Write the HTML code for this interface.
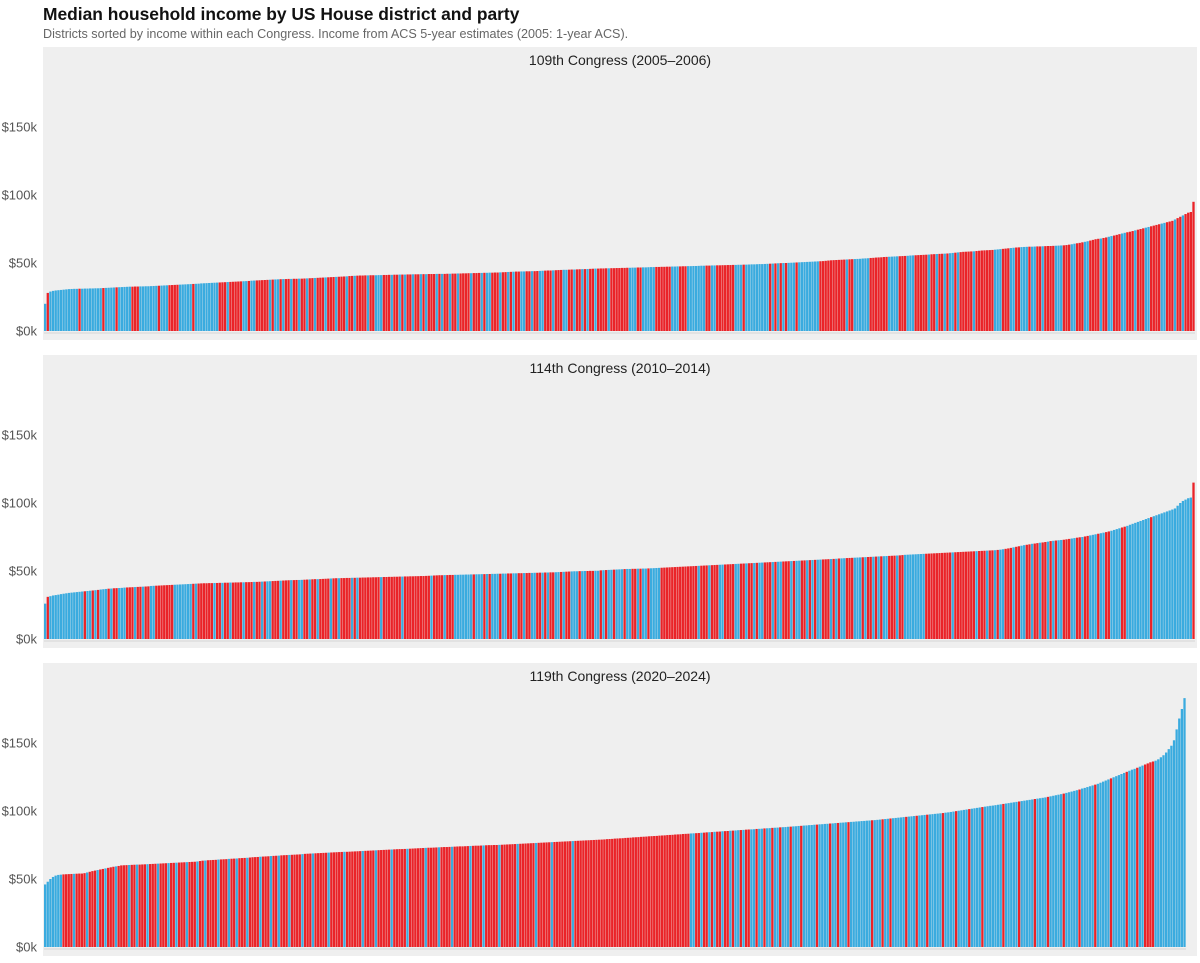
<!DOCTYPE html>
<html><head><meta charset="utf-8">
<style>
body{margin:0;background:#fff;width:1200px;height:963px;overflow:hidden;font-family:"Liberation Sans",sans-serif;}
svg{display:block}
</style></head>
<body>
<svg id="chart" width="1200" height="963">
<text x="43" y="20" font-size="17.4" font-weight="bold" fill="#111">Median household income by US House district and party</text>
<text x="43" y="38" font-size="12.6" fill="#666">Districts sorted by income within each Congress. Income from ACS 5-year estimates (2005: 1-year ACS).</text>
</svg>
<script>
const panelTitles = ["109th Congress (2005\u20132006)","114th Congress (2010\u20132014)","119th Congress (2020\u20132024)"];
const yTicks = [0,50,100,150];
const yTickLabels = ["$0k","$50k","$100k","$150k"];
const party109 = "DRDDDDDDDD"+"DDDRDDDDDD"+"DDRDDDDRDD"+"DDDRRRDDDD"+"DDDRDDDRRR"+"RDDDDDRDDD"+"DDDDDDRRRD"+"RRRRRDDRDD"+"RRRRRDRDDR"+"DRRDRRDRRD"+"RRDRRRDRRR"+"DRRRDRRDRR"+"RRDRRDDDRR"+"RDRRDRDRRD"+"RRDRDRRRDR"+"DRRDRRDRRR"+"RDRRRDRDDR"+"RRDRRDRDRR"+"DDRRDRRDDR"+"RRDRRRDDRR"+"DRRDRDRRDR"+"RRRDRRRRRR"+"RDDDRRDDDD"+"DRRRRRRDDD"+"RRRDDDDDDD"+"RRDDRRRRRR"+"RDDDRDDDDD"+"DDDDRDRDRD"+"RDDDRDDDDD"+"DDDRRRRRRR"+"RRRDRRDDDD"+"DDRRRRRRRD"+"DDDRRRDDDR"+"RRRRDRRDRR"+"DRDDRDRRRR"+"RDRRRRRRRD"+"DDRRRDDRRD"+"DDRDDRRDRR"+"RRDDDRRRDD"+"RRRDDRRRRD"+"RRDDRRRDDR"+"RRDRRRDDRR"+"RRDDRRRDRR"+"DRRRR";
const party114 = "DRDDDDDDDD"+"DDDDDRDDRD"+"RDDDRDRRDD"+"DRRRDRRDRR"+"DDRRRRRRRD"+"DDDDDDRDRR"+"RRRRDRRDRR"+"DRRRRDRRRD"+"RRDRDDRRRD"+"RRRDRRDDRR"+"DRRDRRRRDR"+"RDRRRRDRDR"+"RRRRRRRDRR"+"RRRRRDRRRR"+"RRRRRRDRRR"+"RDRRRDDDDD"+"DDRDDDRDRD"+"DDRDDRRDDR"+"RDRRDDRRDR"+"DRRDDRDRRD"+"DDRDDRRRDD"+"RDRDDRDDDR"+"DDRRDRDDRD"+"DDDRRRRRRR"+"RRRRRRRDRR"+"RDRRRDDRRR"+"RDDRRDRRDR"+"DDRRRDRDDR"+"RRDRDDRRDR"+"DRDDRRRDRD"+"RDDRRRDDDR"+"DRRDRDRDDR"+"RRDRRDDDDD"+"DDDRRRRRRR"+"RRRDRRRRRR"+"RRDRRRDRRD"+"RDDRRRDRRD"+"DRRDRRDRRD"+"RDRDDRRRDD"+"RRDRRDDDRD"+"DRRDDDDRRD"+"DDDDDDDDRD"+"DDDDDDDDDD"+"DDDDR";
const party119 = "DDDDDDDRRR"+"RDRRRRDRRR"+"DRRDRRRDRR"+"RRDRRDRRRD"+"RRRDRRRDRR"+"DRRRDRRRDR"+"RDRRRRDRRR"+"DRRDRRRDRR"+"RRDRRRDRRD"+"RRRDRRRRDR"+"RRDRRRRRDR"+"RRRRDRRRRR"+"RDRRRRDRRR"+"RRDRRRRRDR"+"RRRRRDRRRR"+"DRRRRDRRRR"+"RRDRRRRDRR"+"RRRDRRRRRR"+"DRRRRRRDRR"+"RRRDRRRRRR"+"RDRRRRRRRR"+"RRRRRRRRRR"+"RRRRRRRRRR"+"RRRRRRRRRR"+"RRRRRRDDRR"+"DRRDRDRRDR"+"RDRDDRDRRD"+"DRDDRDDRDD"+"RDDDRDDDRD"+"DDDDRDDDDR"+"DDRDDDRDDD"+"DDDDDRDDDR"+"DDRDDDDDRD"+"DDRDDDRDDD"+"DDRDDDDRDD"+"DDRDDDDRDD"+"DDDDDRDDDD"+"DRDDDDDRDD"+"DDRDDDDDRD"+"DDDDRDDDDD"+"RDDDDDRDDD"+"DDRDDDRDDR"+"RRRDDDDDDD"+"DDDDD";
const income109 = [20,28,29,29.5,29.8,30,30.2,30.4,30.6,30.8,
30.9,31,31,31.1,31.1,31.2,31.2,31.3,31.3,31.4,
31.4,31.5,31.6,31.7,31.8,31.9,32,32.1,32.2,32.3,
32.4,32.5,32.6,32.6,32.7,32.7,32.8,32.8,32.9,32.9,
33,33.1,33.2,33.3,33.4,33.5,33.6,33.7,33.8,33.9,
34,34.1,34.2,34.3,34.4,34.5,34.6,34.7,34.8,35,
35.1,35.2,35.3,35.4,35.5,35.6,35.7,35.8,35.9,36,
36.1,36.2,36.3,36.4,36.5,36.6,36.7,36.8,37,37.1,
37.2,37.3,37.4,37.5,37.6,37.7,37.8,37.9,38,38.1,
38.2,38.2,38.3,38.3,38.4,38.4,38.5,38.5,38.6,38.7,
38.8,38.9,39,39.1,39.2,39.3,39.4,39.5,39.6,39.7,
39.8,39.9,40,40.1,40.2,40.4,40.5,40.6,40.7,40.8,
40.8,40.9,40.9,41,41,41,41.1,41.1,41.2,41.2,
41.3,41.3,41.4,41.4,41.5,41.5,41.5,41.6,41.6,41.7,
41.7,41.7,41.8,41.8,41.8,41.9,41.9,41.9,42,42,
42,42,42.1,42.1,42.2,42.2,42.3,42.3,42.4,42.4,
42.5,42.5,42.6,42.6,42.7,42.7,42.8,42.8,42.9,42.9,
43,43,43.1,43.2,43.3,43.4,43.5,43.6,43.7,43.7,
43.8,43.8,43.9,43.9,44,44,44.1,44.2,44.3,44.4,
44.5,44.5,44.6,44.7,44.8,44.9,45,45,45.1,45.2,
45.2,45.3,45.4,45.5,45.5,45.6,45.7,45.8,45.9,45.9,
46,46,46.1,46.1,46.2,46.2,46.3,46.3,46.4,46.4,
46.5,46.5,46.6,46.6,46.7,46.7,46.8,46.8,46.9,47,
47,47.1,47.1,47.2,47.2,47.3,47.3,47.4,47.4,47.5,
47.5,47.6,47.6,47.7,47.7,47.8,47.8,47.9,48,48,
48.1,48.1,48.2,48.2,48.3,48.3,48.4,48.4,48.5,48.5,
48.6,48.6,48.7,48.7,48.8,48.8,48.9,49,49,49.1,
49.2,49.2,49.3,49.4,49.5,49.6,49.7,49.8,49.9,50,
50,50.1,50.2,50.3,50.4,50.5,50.6,50.7,50.8,50.9,
51,51.1,51.2,51.3,51.4,51.6,51.8,52,52.1,52.2,
52.3,52.4,52.5,52.6,52.7,52.8,52.9,53,53.1,53.3,
53.4,53.5,53.7,53.8,54,54.1,54.2,54.4,54.5,54.6,
54.7,54.8,54.9,55,55.1,55.2,55.3,55.5,55.6,55.7,
55.8,55.9,56,56.1,56.2,56.4,56.5,56.6,56.7,56.8,
56.9,57,57.2,57.4,57.6,57.8,58,58.2,58.3,58.4,
58.5,58.6,58.8,59,59.2,59.3,59.4,59.5,59.6,59.8,
60,60.2,60.4,60.6,60.8,61,61.2,61.4,61.5,61.7,
61.8,61.9,62,62,62.1,62.2,62.2,62.3,62.4,62.5,
62.5,62.6,62.7,62.8,62.9,63,63.2,63.5,63.8,64.2,
64.5,64.8,65.2,65.6,66,66.5,67,67.5,67.8,68,
68.4,68.8,69.3,69.8,70.2,70.7,71.2,71.7,72.2,72.6,
73,73.5,74,74.5,75,75.5,76,76.5,77,77.5,
78,78.5,79,79.5,80,80.5,81,82,83,84,
85,86,87,87.5,95];
const income114 = [26,31,31.5,32,32.3,32.6,33,33.3,33.6,33.9,
34.1,34.3,34.5,34.7,34.9,35.1,35.3,35.5,35.7,35.9,
36.1,36.4,36.6,36.8,37,37.1,37.3,37.4,37.5,37.6,
37.8,37.9,38,38.1,38.2,38.3,38.4,38.5,38.6,38.7,
39,39.1,39.2,39.3,39.4,39.5,39.6,39.7,39.8,39.9,
40,40.1,40.2,40.3,40.4,40.5,40.6,40.7,40.8,40.9,
41,41,41.1,41.1,41.2,41.2,41.3,41.3,41.4,41.4,
41.5,41.5,41.6,41.6,41.7,41.7,41.8,41.8,41.9,42,
42,42.1,42.2,42.3,42.4,42.5,42.6,42.7,42.8,42.9,
43,43.1,43.2,43.3,43.3,43.4,43.4,43.5,43.6,43.7,
43.8,43.9,44,44,44.1,44.2,44.3,44.4,44.5,44.6,
44.7,44.7,44.8,44.8,44.9,44.9,45,45,45.1,45.1,
45.2,45.2,45.3,45.3,45.4,45.4,45.5,45.5,45.6,45.6,
45.7,45.7,45.8,45.8,45.9,45.9,46,46,46.1,46.1,
46.2,46.2,46.3,46.3,46.4,46.5,46.6,46.7,46.8,46.9,
46.9,47,47,47.1,47.1,47.2,47.2,47.3,47.3,47.4,
47.4,47.5,47.5,47.6,47.6,47.7,47.7,47.8,47.8,47.9,
47.9,48,48,48.1,48.1,48.2,48.2,48.3,48.3,48.4,
48.4,48.5,48.5,48.6,48.6,48.7,48.7,48.8,48.8,48.9,
48.9,49,49,49.1,49.2,49.3,49.4,49.5,49.6,49.7,
49.8,49.8,49.9,49.9,50,50,50.1,50.1,50.2,50.2,
50.5,50.6,50.7,50.8,50.9,51,51.1,51.2,51.3,51.4,
51.5,51.5,51.6,51.6,51.7,51.7,51.8,51.8,51.9,52,
52.1,52.2,52.3,52.4,52.5,52.6,52.7,52.8,52.9,53,
53.1,53.2,53.3,53.4,53.5,53.6,53.7,53.8,53.9,54,
54.1,54.2,54.3,54.4,54.5,54.6,54.7,54.8,54.9,55,
55.1,55.2,55.3,55.4,55.5,55.6,55.7,55.8,55.9,56,
56.1,56.2,56.3,56.4,56.5,56.6,56.7,56.8,56.9,57,
57.1,57.2,57.3,57.4,57.5,57.6,57.7,57.8,57.9,58,
58.1,58.2,58.3,58.4,58.5,58.6,58.7,58.8,58.9,59,
59.2,59.3,59.4,59.5,59.6,59.7,59.8,59.9,60,60.1,
60.2,60.3,60.4,60.5,60.6,60.7,60.8,60.9,61,61.1,
61.2,61.3,61.4,61.5,61.7,61.9,62,62.1,62.2,62.3,
62.4,62.5,62.6,62.7,62.8,62.9,63,63.1,63.2,63.3,
63.4,63.5,63.6,63.7,63.8,63.9,64,64.1,64.2,64.3,
64.4,64.5,64.6,64.7,64.8,64.9,65,65.1,65.2,65.3,
65.5,65.7,66,66.3,66.6,67,67.4,67.8,68.2,68.6,
69,69.3,69.6,70,70.2,70.5,70.8,71,71.3,71.6,
72,72.2,72.4,72.6,72.8,73,73.3,73.6,73.9,74.2,
74.5,74.8,75,75.4,75.8,76.2,76.6,77,77.4,77.8,
78.2,78.6,79.1,79.6,80.2,80.8,81.4,82,82.6,83.2,
84,84.7,85.4,86.1,86.8,87.5,88.2,88.9,89.6,90.3,
91,91.7,92.4,93.1,93.8,94.5,95.2,96,98,100,
101.5,102.5,103.5,104,115];
const income119 = [46,48,50,51.5,52.5,53,53.2,53.4,53.5,53.6,
53.7,53.8,53.9,54,54,54.3,54.8,55.3,55.8,56.2,
56.6,57,57.4,57.8,58.2,58.6,59,59.3,59.6,60,
60.1,60.2,60.3,60.4,60.5,60.6,60.6,60.7,60.8,60.9,
61,61.1,61.2,61.3,61.4,61.5,61.6,61.7,61.8,61.9,
62,62.1,62.2,62.3,62.4,62.5,62.6,62.7,62.9,63.2,
63.5,63.6,63.8,63.9,64,64.1,64.3,64.4,64.5,64.6,
64.8,64.9,65,65.1,65.3,65.4,65.5,65.6,65.8,66,
66.1,66.2,66.4,66.5,66.6,66.7,66.9,67,67.1,67.2,
67.4,67.5,67.6,67.7,67.8,67.9,68,68.1,68.3,68.5,
68.6,68.7,68.8,68.9,69,69.1,69.2,69.3,69.4,69.5,
69.6,69.7,69.8,69.9,70,70,70.1,70.2,70.3,70.4,
70.5,70.6,70.7,70.8,70.9,71,71.1,71.2,71.3,71.4,
71.5,71.6,71.7,71.8,71.9,72,72,72.1,72.2,72.3,
72.4,72.5,72.6,72.7,72.8,72.9,73,73,73.1,73.2,
73.3,73.4,73.5,73.5,73.6,73.7,73.8,73.9,74,74,
74.1,74.2,74.3,74.4,74.5,74.5,74.6,74.7,74.8,74.9,
74.9,75,75,75.1,75.2,75.3,75.4,75.5,75.6,75.7,
75.8,75.9,76,76.1,76.2,76.3,76.4,76.5,76.6,76.7,
76.8,76.9,77,77.1,77.2,77.3,77.4,77.5,77.6,77.7,
77.8,77.9,78,78.1,78.2,78.3,78.4,78.5,78.6,78.7,
78.8,78.9,79,79.1,79.3,79.4,79.5,79.7,79.8,79.9,
80,80.2,80.3,80.4,80.6,80.7,80.8,81,81.1,81.2,
81.4,81.5,81.6,81.7,81.9,82,82.1,82.3,82.4,82.5,
82.7,82.8,82.9,83.1,83.2,83.3,83.5,83.6,83.7,83.8,
84,84.1,84.3,84.4,84.5,84.7,84.8,84.9,85.1,85.2,
85.3,85.5,85.6,85.7,85.9,86,86.1,86.3,86.4,86.5,
86.6,86.8,86.9,87,87.2,87.3,87.4,87.6,87.7,87.8,
88,88.1,88.2,88.4,88.5,88.7,88.8,89,89.1,89.3,
89.4,89.6,89.7,89.9,90,90.2,90.3,90.5,90.6,90.8,
90.9,91.1,91.2,91.4,91.5,91.7,91.8,92,92.1,92.3,
92.4,92.6,92.7,92.9,93,93.2,93.3,93.5,93.7,93.9,
94.1,94.3,94.5,94.7,94.9,95.1,95.3,95.5,95.7,95.9,
96.1,96.3,96.5,96.7,96.9,97.1,97.3,97.5,97.7,97.9,
98.1,98.3,98.5,98.8,99,99.3,99.6,99.9,100.2,100.5,
100.8,101.1,101.4,101.7,102,102.3,102.6,102.9,103.2,103.5,
103.8,104,104.3,104.6,104.9,105.2,105.5,105.8,106.1,106.4,
106.7,107,107.3,107.6,107.9,108.2,108.5,108.8,109.1,109.4,
109.7,110,110.4,110.8,111.2,111.6,112,112.4,112.8,113.3,
113.8,114.3,114.8,115.3,115.8,116.5,117,117.6,118.2,118.8,
119.4,120,120.8,121.6,122.4,123.2,124,124.8,125.6,126.4,
127.2,128,128.8,129.6,130.4,131,131.8,132.6,133.4,134.2,
135,135.8,136.4,137,138,139.5,141,143,145.5,148,
152,160,168,175,183];

const NS = "http://www.w3.org/2000/svg";
const svg = document.getElementById('chart');
const panels = [
  {top:47, base:331, x0:44, x1:1195, vals:income109, party:party109, key:'109'},
  {top:355, base:639, x0:44, x1:1195, vals:income114, party:party114, key:'114'},
  {top:663, base:947, x0:44, x1:1186, vals:income119, party:party119, key:'119'}
];
const PXK = 1.36;
function mk(tag, attrs){const e=document.createElementNS(NS,tag);for(const k in attrs)e.setAttribute(k,attrs[k]);return e;}
panels.forEach((p,pi)=>{
  const g = mk('g',{});
  
  
  svg.appendChild(g);
  const bg = mk('rect',{x:43,y:p.top,width:1154,height:293,fill:'#efefef'});
  
  
  g.appendChild(bg);
  const yScale = v => p.base - v*PXK;
  yTicks.forEach((t,ti)=>{
    const tx = mk('text',{x:37,y:yScale(t)+4.5,'text-anchor':'end','font-size':13,fill:'#555'});
    tx.textContent = yTickLabels[ti];
    
    
    g.appendChild(tx);
  });
  const title = mk('text',{x:620,y:p.top+18,'text-anchor':'middle','font-size':14,fill:'#222'});
  title.textContent = panelTitles[pi];
  
  
  g.appendChild(title);
  const n = p.vals.length;
  const bw = (p.x1 - p.x0)/n;
  const xScale = i => p.x0 + i*bw;
  for(let i=0;i<n;i++){
    const v = p.vals[i];
    const r = mk('rect',{x:xScale(i),y:yScale(v),width:Math.max(bw-0.35,0.5),height:v*PXK,
      fill: p.party[i]==='R' ? '#ea2328' : '#3aabdf'});
    
    
    g.appendChild(r);
  }
  const ax = mk('rect',{x:p.x0,y:p.base+1,width:p.x1-p.x0,height:2,fill:'#e2e2e2'});
  
  
  g.appendChild(ax);
});
</script>
</body></html>
